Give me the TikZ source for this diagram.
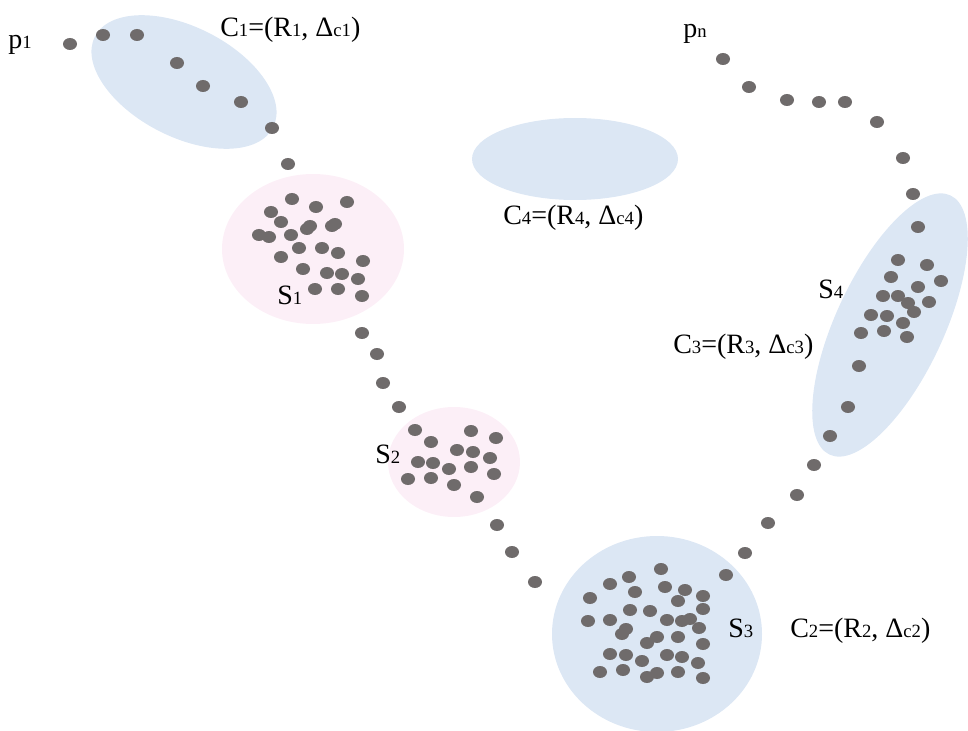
\documentclass[tikz,border=0pt]{standalone}
\usepackage{fontspec}
\setmainfont{Liberation Serif}
\usepackage{tikz}
\definecolor{dotgray}{HTML}{6F6B6B}
\definecolor{regionblue}{HTML}{DCE7F4}
\definecolor{regionpink}{HTML}{FCEFF7}
\newcommand\lo[1]{{\fontsize{14}{16}\selectfont #1}}
\tikzset{
  ptdot/.style={fill=dotgray},
  blueregion/.style={fill=regionblue},
  pinkregion/.style={fill=regionpink},
  lbl/.style={font=\fontsize{21}{24}\selectfont,inner sep=0pt,text=black,anchor=base west},
}

\begin{document}
\begin{tikzpicture}[x=0.75pt,y=-0.75pt]
  \clip (0,0) rectangle (968,731);
  % cluster regions
  \fill[blueregion,rotate around={-27:(184,82)}] (184,82) ellipse [x radius=100,y radius=55];
  \fill[blueregion] (575,159) ellipse [x radius=103,y radius=41];
  \fill[pinkregion] (313,249) ellipse [x radius=91,y radius=75];
  \fill[pinkregion] (454,462) ellipse [x radius=66,y radius=55];
  \fill[blueregion] (657,634) ellipse [x radius=105,y radius=98];
  \fill[blueregion,rotate around={65:(890,325)}] (890,325) ellipse [x radius=143,y radius=54];

  % trajectory points
  \foreach \x/\y in {70/44,103/35,137/35,177/63,203/86,241/102,272/128,288/164,
      362/333,377/354,383/383,399/407,497/525,512/552,535/582,
      726/575,745/553,768/523,797/495,814/465,830/436,848/407,859/366,
      903/158,877/122,845/102,819/102,787/100,749/87,723/59}
    \fill[ptdot] (\x,\y) ellipse [x radius=7,y radius=6];
  % stay points S1
  \foreach \x/\y in {292/199,316/207,347/202,271/212,281/222,310/226,307/229,335/224,
      332/226,259/235,269/237,291/235,299/248,322/248,338/253,363/261,281/257,
      303/269,327/273,342/274,358/279,315/289,338/289,362/296}
    \fill[ptdot] (\x,\y) ellipse [x radius=7,y radius=6];
  % stay points S2
  \foreach \x/\y in {415/430,471/431,496/438,431/442,457/450,473/452,490/458,418/462,
      433/463,449/469,471/467,494/474,408/479,431/478,454/485,477/497}
    \fill[ptdot] (\x,\y) ellipse [x radius=7,y radius=6];
  % stay points S3
  \foreach \x/\y in {661/569,629/577,610/584,590/598,635/592,665/587,685/590,703/596,
      678/601,630/610,650/611,703/609,588/621,610/620,667/620,682/621,690/619,
      699/628,626/629,622/634,657/637,647/643,678/637,703/644,610/654,626/655,
      642/661,667/655,682/657,698/663,600/672,623/670,657/673,647/677,678/672,703/678}
    \fill[ptdot] (\x,\y) ellipse [x radius=7,y radius=6];
  % stay points S4
  \foreach \x/\y in {861/333,884/331,907/337,871/315,887/316,903/323,883/296,898/296,
      908/303,914/312,929/302,918/287,891/277,898/260,927/265,941/281,918/227,913/194}
    \fill[ptdot] (\x,\y) ellipse [x radius=7,y radius=6];

  % labels
  \node[lbl] (p1) at (8,49) {p\lo{1}};
  \node[lbl] (pn) at (683,38) {p\lo{n}};
  \node[lbl] (c1) at (220,37) {C\lo{1}=(R\lo{1}, Δ\lo{c1})};
  \node[lbl] (c4) at (503,225) {C\lo{4}=(R\lo{4}, Δ\lo{c4})};
  \node[lbl] (c2) at (790,637) {C\lo{2}=(R\lo{2}, Δ\lo{c2})};
  \node[lbl] (c3) at (673,353) {C\lo{3}=(R\lo{3}, Δ\lo{c3})};
  \node[lbl] (s1) at (277,305) {S\lo{1}};
  \node[lbl] (s2) at (375,463) {S\lo{2}};
  \node[lbl] (s3) at (728,637) {S\lo{3}};
  \node[lbl] (s4) at (818,298) {S\lo{4}};
\end{tikzpicture}
\end{document}
